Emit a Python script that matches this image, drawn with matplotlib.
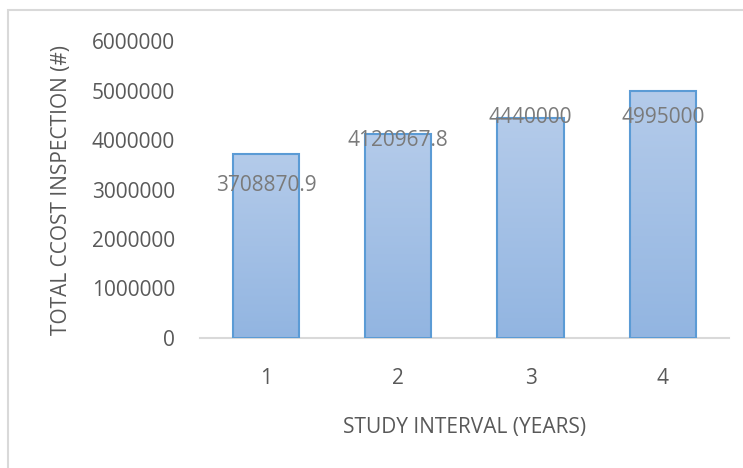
import numpy as np
import matplotlib
matplotlib.use("Agg")
import matplotlib.pyplot as plt
from matplotlib.patches import Rectangle
from matplotlib.ticker import FuncFormatter

intervals = ["1", "2", "3", "4"]
total_cost = [3708870.9, 4120967.8, 4440000, 4995000]
cost_labels = ["3708870.9", "4120967.8", "4440000", "4995000"]
label_y = [3090000, 4000000, 4460000, 4460000]

plt.rcParams["font.family"] = ["Open Sans", "DejaVu Sans"]
grey = "#595959"

fig = plt.figure(figsize=(7.43, 4.68), dpi=100)
ax = fig.add_axes([0.269, 0.278, 0.712, 0.634])

x = np.arange(len(intervals))
bars = ax.bar(x, total_cost, width=0.5, facecolor="none",
              edgecolor="#5b9bd5", linewidth=1.5, zorder=3)

# vertical gradient fill clipped to each bar
grad = np.linspace(0, 1, 256).reshape(-1, 1)
cmap = matplotlib.colors.LinearSegmentedColormap.from_list(
    "barfill", ["#92b5e1", "#b4cbea"])
for b in bars:
    x0, y0 = b.get_x(), b.get_y()
    w, h = b.get_width(), b.get_height()
    im = ax.imshow(grad, extent=[x0, x0 + w, y0, y0 + h], origin="lower",
                   cmap=cmap, aspect="auto", zorder=2)
    im.set_clip_path(b)

for xi, txt, ly in zip(x, cost_labels, label_y):
    ax.text(xi, ly, txt, ha="center", va="center", fontsize=15,
            color="#7a7a7a", zorder=4)

ax.set_xlim(-0.5, len(intervals) - 0.5)
ax.set_ylim(0, 6000000)
ax.set_yticks(np.arange(0, 6000001, 1000000))
ax.yaxis.set_major_formatter(FuncFormatter(lambda v, p: f"{int(v)}"))
ax.set_xticks(x)
ax.set_xticklabels(intervals)
ax.tick_params(length=0, labelsize=15, colors=grey)
ax.tick_params(axis="y", pad=18)
ax.tick_params(axis="x", pad=22)

for s in ["top", "right", "left"]:
    ax.spines[s].set_visible(False)
ax.spines["bottom"].set_color("#d9d9d9")
ax.spines["bottom"].set_linewidth(1.5)

ax.set_xlabel("STUDY INTERVAL (YEARS)", fontsize=15, color=grey, labelpad=20)
ax.set_ylabel("TOTAL CCOST INSPECTION (#)", fontsize=15, color=grey, labelpad=14)

# chart area border
fig.add_artist(Rectangle((0.0108, -0.05), 1.2, 0.9786 + 0.05,
                         transform=fig.transFigure, fill=False,
                         edgecolor="#d9d9d9", linewidth=1.5))

fig.savefig("out.png", dpi=100)
